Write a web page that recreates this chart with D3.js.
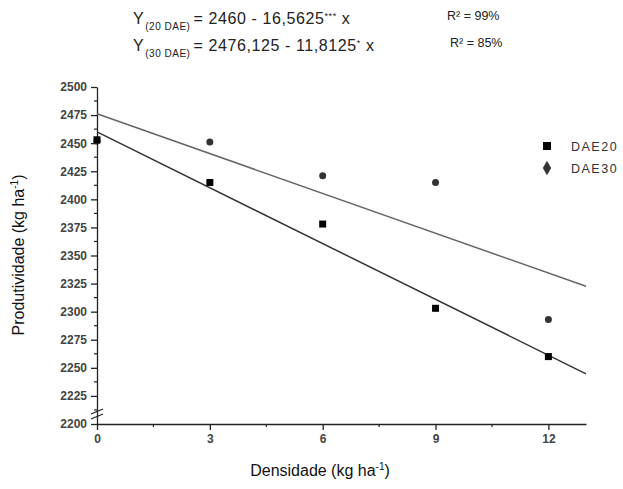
<!DOCTYPE html>
<html>
<head>
<meta charset="utf-8">
<script src="https://cdn.jsdelivr.net/npm/d3@7"></script>
<style>
  body { margin: 0; background: #fff; overflow: hidden; }
  svg { display: block; font-family: "Liberation Sans", Arial, sans-serif; }
  .axis path, .axis line { stroke: #222; stroke-width: 1.3; }
  .axis text { font-size: 12px; font-weight: bold; fill: #444; }
  .minor line { stroke: #222; stroke-width: 1.2; }
  .label { font-size: 16px; font-weight: normal; fill: #111; }
  .eq { font-size: 16px; fill: #222; letter-spacing: 0.6px; }
  .r2 { font-size: 12.5px; fill: #222; }
  .legend text { font-size: 12.5px; fill: #333; letter-spacing: 1.5px; }
</style>
</head>
<body>
<div id="chart"></div>
<script>
const densidade = [0, 3, 6, 9, 12];
const dae20 = [2453, 2415, 2378, 2303, 2260];
const dae30 = [2452, 2451, 2421, 2415, 2293];
const fit20 = { a: 2460, b: -16.5625 };
const fit30 = { a: 2476.125, b: -11.8125 };
const xTicks = [0, 3, 6, 9, 12];
const yTicks = d3.range(2200, 2501, 25);

const width = 623, height = 489;
const svg = d3.select("#chart").append("svg")
  .attr("width", width).attr("height", height);

const x = d3.scaleLinear().domain([0, 13]).range([97, 586]);
const y = d3.scaleLinear().domain([2200, 2500]).range([424, 87]);

// minor ticks
svg.append("g").attr("class", "minor")
  .selectAll("line").data(d3.range(2212.5, 2500, 25)).join("line")
  .attr("x1", x(0) - 3).attr("x2", x(0))
  .attr("y1", d => y(d)).attr("y2", d => y(d));
svg.append("g").attr("class", "minor")
  .selectAll("line").data(d3.range(1.5, 13, 3)).join("line")
  .attr("x1", d => x(d)).attr("x2", d => x(d))
  .attr("y1", y(2200)).attr("y2", y(2200) + 3);

svg.append("g")
  .attr("class", "axis")
  .attr("transform", `translate(0, ${y(2200)})`)
  .call(d3.axisBottom(x).tickValues(xTicks).tickSize(6).tickSizeOuter(0).tickPadding(4));

svg.append("g")
  .attr("class", "axis")
  .attr("transform", `translate(${x(0)}, 0)`)
  .call(d3.axisLeft(y).tickValues(yTicks).tickFormat(d3.format("d"))
    .tickSize(6).tickSizeOuter(0).tickPadding(4));

// axis break mark
const brk = svg.append("g").attr("stroke", "#222").attr("stroke-width", 1.2);
[0, 5].forEach(o => {
  brk.append("line")
    .attr("x1", x(0) - 6).attr("y1", y(2200) - 5 - o)
    .attr("x2", x(0) + 6).attr("y2", y(2200) - 10 - o);
});

// regression lines
const line = d3.line().x(d => x(d[0])).y(d => y(d[1]));
svg.append("path")
  .attr("d", line([0, 13].map(v => [v, fit30.a + fit30.b * v])))
  .attr("fill", "none").attr("stroke", "#666").attr("stroke-width", 1.5);
svg.append("path")
  .attr("d", line([0, 13].map(v => [v, fit20.a + fit20.b * v])))
  .attr("fill", "none").attr("stroke", "#333").attr("stroke-width", 1.5);

// points
svg.append("g").selectAll("circle")
  .data(densidade.map((d, i) => [d, dae30[i]])).join("circle")
  .attr("cx", d => x(d[0])).attr("cy", d => y(d[1]))
  .attr("r", 3.5).attr("fill", "#333");
svg.append("g").selectAll("rect")
  .data(densidade.map((d, i) => [d, dae20[i]])).join("rect")
  .attr("x", d => x(d[0]) - 3.5).attr("y", d => y(d[1]) - 3.5)
  .attr("width", 7).attr("height", 7).attr("fill", "#000");

// legend
const legend = svg.append("g").attr("class", "legend");
legend.append("rect").attr("x", 543).attr("y", 142).attr("width", 8).attr("height", 8).attr("fill", "#000");
legend.append("path")
  .attr("d", d3.symbol(d3.symbolDiamond, 60)())
  .attr("transform", "translate(547, 168)").attr("fill", "#333");
legend.append("text").attr("x", 571).attr("y", 151).text("DAE20");
legend.append("text").attr("x", 571).attr("y", 173).text("DAE30");

// axis labels
svg.append("text").attr("class", "label")
  .attr("x", 320).attr("y", 476).attr("text-anchor", "middle")
  .html('Densidade (kg ha<tspan font-size="10" dy="-6">-1</tspan><tspan dy="6">)</tspan>');
svg.append("text").attr("class", "label")
  .attr("transform", "translate(24, 255) rotate(-90)").attr("text-anchor", "middle")
  .html('Produtividade (kg ha<tspan font-size="10" dy="-6">-1</tspan><tspan dy="6">)</tspan>');

// equations
const eqs = [
  { sub: "(20 DAE)", txt: "= 2460 - 16,5625", star: "***", r2: "R² = 99%", y: 24, rx: 447 },
  { sub: "(30 DAE)", txt: "= 2476,125 - 11,8125", star: "*", r2: "R² = 85%", y: 51, rx: 450 }
];
eqs.forEach(e => {
  const t = svg.append("text").attr("class", "eq").attr("x", 133).attr("y", e.y);
  t.append("tspan").text("Y");
  t.append("tspan").attr("font-size", 10).attr("letter-spacing", 0.5).attr("dy", 6).attr("dx", 1).text(e.sub);
  t.append("tspan").attr("dy", -6).attr("dx", 3).text(e.txt);
  t.append("tspan").attr("font-size", 9).attr("dy", -5).text(e.star);
  t.append("tspan").attr("dy", 5).text(" x");
  svg.append("text").attr("class", "r2").attr("x", e.rx).attr("y", e.y - 4).text(e.r2);
});
</script>
</body>
</html>
